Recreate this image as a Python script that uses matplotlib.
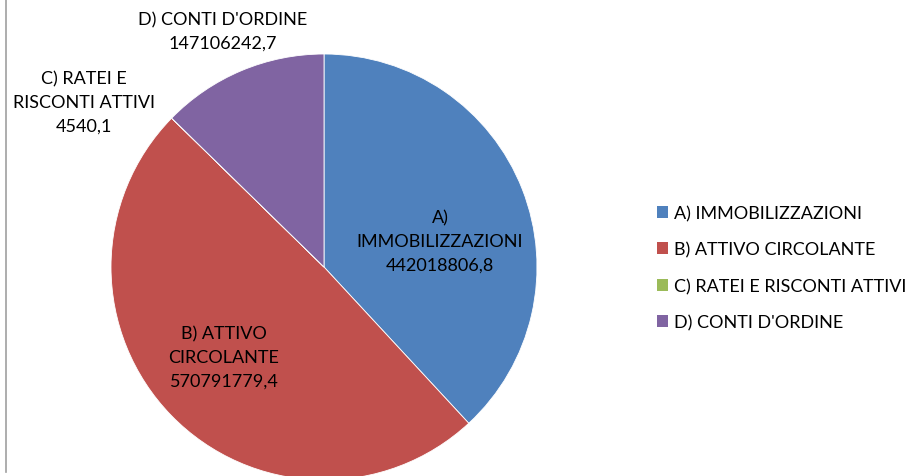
import matplotlib.pyplot as plt
from matplotlib.patches import Patch

plt.rcParams['font.family'] = ['Lato', 'DejaVu Sans']

labels = ['A) IMMOBILIZZAZIONI', 'B) ATTIVO CIRCOLANTE',
          'C) RATEI E RISCONTI ATTIVI', "D) CONTI D'ORDINE"]
values = [442018806.8, 570791779.4, 4540.1, 147106242.7]
colors = ['#4F81BD', '#C0504D', '#9BBB59', '#8064A2']

# label text as shown on the chart (line breaks as in the picture)
label_text = ['A)\nIMMOBILIZZAZIONI', 'B) ATTIVO\nCIRCOLANTE',
              'C) RATEI E\nRISCONTI ATTIVI', "D) CONTI D'ORDINE"]
# label centres in pixel coords (x, y from top)
label_pos = [(440, 242), (224, 358), (84, 103), (223, 32)]

W, H = 910, 477
fig = plt.figure(figsize=(W / 100, H / 100), dpi=100)
ax = fig.add_axes([0, 0, 1, 1])

cx, cy, r = 324, H - 268, 213
wedges, _ = ax.pie(values, colors=colors, startangle=90, counterclock=False,
                   center=(cx, cy), radius=r, frame=True,
                   wedgeprops=dict(edgecolor='white', linewidth=0.6))
ax.set_xlim(0, W)
ax.set_ylim(0, H)
ax.set_aspect('equal')
ax.axis('off')

def fmt(v):
    return ('%.1f' % v).replace('.', ',')

for txt, v, (x, y) in zip(label_text, values, label_pos):
    ax.text(x, H - y, txt + '\n' + fmt(v), ha='center', va='center',
            fontsize=13, linespacing=1.6, color='black')

# left border line
ax.plot([6, 6], [H - 473, H], color='#A0A0A0', lw=1.2)

handles = [Patch(facecolor=c, edgecolor='none') for c in colors]
fig.legend(handles, labels, loc='upper left', bbox_to_anchor=(650 / W, 1 - 199 / H),
           frameon=False, fontsize=13, handlelength=0.62, handleheight=0.62,
           handletextpad=0.3, labelspacing=1.12, borderaxespad=0)

fig.savefig('out.png', dpi=100)
